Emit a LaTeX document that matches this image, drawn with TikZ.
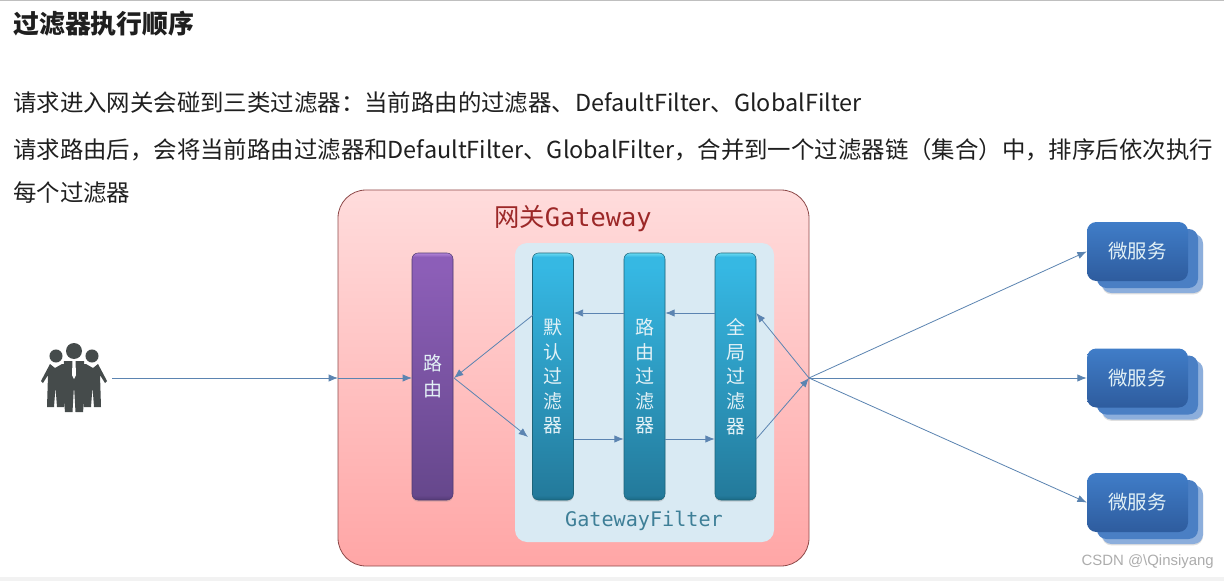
\documentclass[tikz,border=0pt]{standalone}
\usepackage{fontspec}
\setmainfont{Noto Sans CJK SC}
\newfontfamily\monof{DejaVu Sans Mono}
\newfontfamily\wmfont{Liberation Sans}
\usetikzlibrary{shadows,arrows.meta,calc}
\pgfdeclareverticalshading{barblue}{100bp}{
 rgb(0bp)=(0.10,0.42,0.53);
 rgb(25bp)=(0.10,0.42,0.53);
 rgb(26bp)=(0.14,0.48,0.61);
 rgb(72bp)=(0.21,0.72,0.89);
 rgb(74.2bp)=(0.21,0.72,0.89);
 rgb(75bp)=(0.42,0.86,0.95);
 rgb(100bp)=(0.42,0.86,0.95)}
\pgfdeclareverticalshading{barpurple}{100bp}{
 rgb(0bp)=(0.33,0.23,0.47);
 rgb(25bp)=(0.33,0.23,0.47);
 rgb(26bp)=(0.40,0.28,0.55);
 rgb(72bp)=(0.55,0.37,0.72);
 rgb(74.2bp)=(0.55,0.37,0.72);
 rgb(75bp)=(0.70,0.52,0.85);
 rgb(100bp)=(0.70,0.52,0.85)}
\definecolor{flow}{HTML}{5B84B1}
\definecolor{ppl}{HTML}{454B4B}
\definecolor{panecol}{HTML}{D9EAF3}
\definecolor{gatetop}{HTML}{FFDCDC}
\definecolor{gatebot}{HTML}{FFA6A6}
\definecolor{gateedge}{HTML}{8E4A4A}
\definecolor{barblueedge}{HTML}{1D6479}
\definecolor{barpurpleedge}{HTML}{4F3A70}
\definecolor{mstop}{HTML}{407DC8}
\definecolor{msbot}{HTML}{2E5C9E}
\definecolor{msmid}{HTML}{4A7FC4}
\definecolor{msrear}{HTML}{8CAEDC}
\definecolor{gatetext}{HTML}{9C2828}
\definecolor{panetext}{HTML}{3E7F97}
\definecolor{bartext}{HTML}{E2F1F6}
\newcommand{\fwcolon}{^^^^ff1a}
\newcommand{\fwcomma}{^^^^ff0c}
\newcommand{\fwopen}{^^^^ff08}
\newcommand{\fwclose}{^^^^ff09}
\tikzset{
 x=0.75pt,y=-0.75pt,
 para/.style={anchor=west,inner sep=0pt,text=black!88,font=\fontsize{17.56}{20}\selectfont},
 gatebox/.style={draw=gateedge,line width=0.6pt,rounded corners=21pt,minimum width=471*0.75pt,minimum height=376*0.75pt,inner sep=0pt,top color=gatetop,bottom color=gatebot},
 panebox/.style={rounded corners=9pt,fill=panecol,minimum width=259*0.75pt,minimum height=299*0.75pt,inner sep=0pt},
 barbox/.style={rounded corners=4.5pt,minimum width=41*0.75pt,minimum height=247*0.75pt,inner sep=0pt,align=center,text=bartext,
   font=\fontsize{14.25}{18.45}\selectfont,drop shadow={shadow xshift=0pt,shadow yshift=-1.2pt,opacity=.3}},
 bluebar/.style={barbox,shading=barblue,draw=barblueedge,line width=0.4pt},
 purplebar/.style={barbox,shading=barpurple,draw=barpurpleedge,line width=0.4pt},
 msback/.style={rounded corners=7pt,minimum width=101*0.75pt,minimum height=59*0.75pt,inner sep=0pt},
 msfront/.style={msback,top color=mstop,bottom color=msbot,text=bartext,font=\fontsize{14.6}{17}\selectfont},
 flowline/.style={draw=flow,line width=0.6pt,-{Latex[length=7pt,width=5.5pt]}},
}
\begin{document}
\begin{tikzpicture}
\useasboundingbox (0,0) rectangle (1224,581);
\fill[white] (0,0) rectangle (1224,581);
\fill[black!5] (0,577) rectangle (1224,581);
\fill[black!25] (0,0) rectangle (1224,1);
% text
\node[para,font=\fontsize{19.4}{22}\selectfont\bfseries] (title) at (13,24) {过滤器执行顺序};
\node[para] (l1) at (13,103) {请求进入网关会碰到三类过滤器\fwcolon{}当前路由的过滤器、DefaultFilter、GlobalFilter};
\node[para] (l2) at (13,150) {请求路由后\fwcomma{}会将当前路由过滤器和DefaultFilter、GlobalFilter\fwcomma{}合并到一个过滤器链\fwopen{}集合\fwclose{}中\fwcomma{}排序后依次执行};
\node[para] (l3) at (13,193) {每个过滤器};
% containers
\node[gatebox] (gate) at (573.5,378) {};
\node[anchor=center,inner sep=0pt,text=gatetext,font=\fontsize{19}{22}\selectfont] (gatetitle) at (573,219) {网关{\monof Gateway}};
\node[panebox] (pane) at (644.5,392.5) {};
\node[anchor=center,inner sep=0pt,text=panetext,font=\monof\fontsize{15.1}{18}\selectfont] (panetitle) at (644,521) {GatewayFilter};
% bars
\node[purplebar] (route) at (432.5,376.5) {路\\[1pt]由};
\node[bluebar] (def) at (553,376.5) {默\\认\\过\\滤\\器};
\node[bluebar] (cur) at (644.5,376.5) {路\\由\\过\\滤\\器};
\node[bluebar] (glob) at (735.5,376.5) {全\\局\\过\\滤\\器};
% microservices
\foreach \n/\y in {a/251.5,b/378,c/502.5}{
  \node[msback,fill=msrear,drop shadow={shadow xshift=0pt,shadow yshift=-1pt,opacity=.25}] at (1152.5,\y+12) {};
  \node[msback,fill=msmid] at (1147.5,\y+7) {};
  \node[msfront] (ms\n) at (1137.5,\y) {微服务};
}
% people icon
\begin{scope}
 \fill[ppl] (56,356) circle (4.9pt);
 \fill[ppl] (92,356) circle (4.9pt);
 \fill[ppl] (50,364) -- (55,368) -- (62,364) -- (66,364) -- (64,407) -- (57,407) -- (55.5,387) -- (54,407) -- (47,407) -- (48,375) -- (43,383) -- (41,381) -- cycle;
 \fill[ppl] (98,364) -- (93,368) -- (86,364) -- (82,364) -- (84,407) -- (91,407) -- (92.5,387) -- (94,407) -- (101,407) -- (100,375) -- (105,383) -- (107,381) -- cycle;
 \fill[ppl] (74,351) circle (6pt);
 \fill[ppl] (64,361) -- (84,361) -- (85,390) -- (83,412) -- (75.5,412) -- (74,386) -- (72.5,412) -- (65,412) -- (63,390) -- cycle;
 \fill[white] (72.5,361) -- (75.5,361) -- (76,375) -- (74,379) -- (72,375) -- cycle;
\end{scope}
% connector anchors
\coordinate (user) at (112,378);
\coordinate (top) at (0,313);
\coordinate (bot) at (0,439);
\coordinate (hub) at (809,378);
\coordinate (entry) at (338,378);
\coordinate (routein) at (412,378);
\coordinate (routeout) at (454,378);
\coordinate (defin) at (528,437);
\coordinate (defout) at (533,315);
% connectors
\draw[flowline] (user) -- (entry);
\draw[flowline] (entry) -- (routein);
\draw[flowline] (defout) -- (routeout);
\draw[flowline] (routeout) -- (defin);
\draw[flowline] (cur.west |- top) -- (def.east |- top);
\draw[flowline] (glob.west |- top) -- (cur.east |- top);
\draw[flowline] (def.east |- bot) -- (cur.west |- bot);
\draw[flowline] (cur.east |- bot) -- (glob.west |- bot);
\draw[flowline] (glob.east |- bot) -- (hub);
\draw[flowline] (hub) -- (glob.east |- top);
\draw[flowline] (hub) -- (msa.west);
\draw[flowline] (hub) -- (msb.west);
\draw[flowline] (hub) -- (msc.west);
\node[anchor=east,inner sep=0pt,text=black!32,font=\wmfont\fontsize{11.2}{13}\selectfont] (wm) at (1214,562) {CSDN @\textbackslash Qinsiyang};
\end{tikzpicture}
\end{document}
